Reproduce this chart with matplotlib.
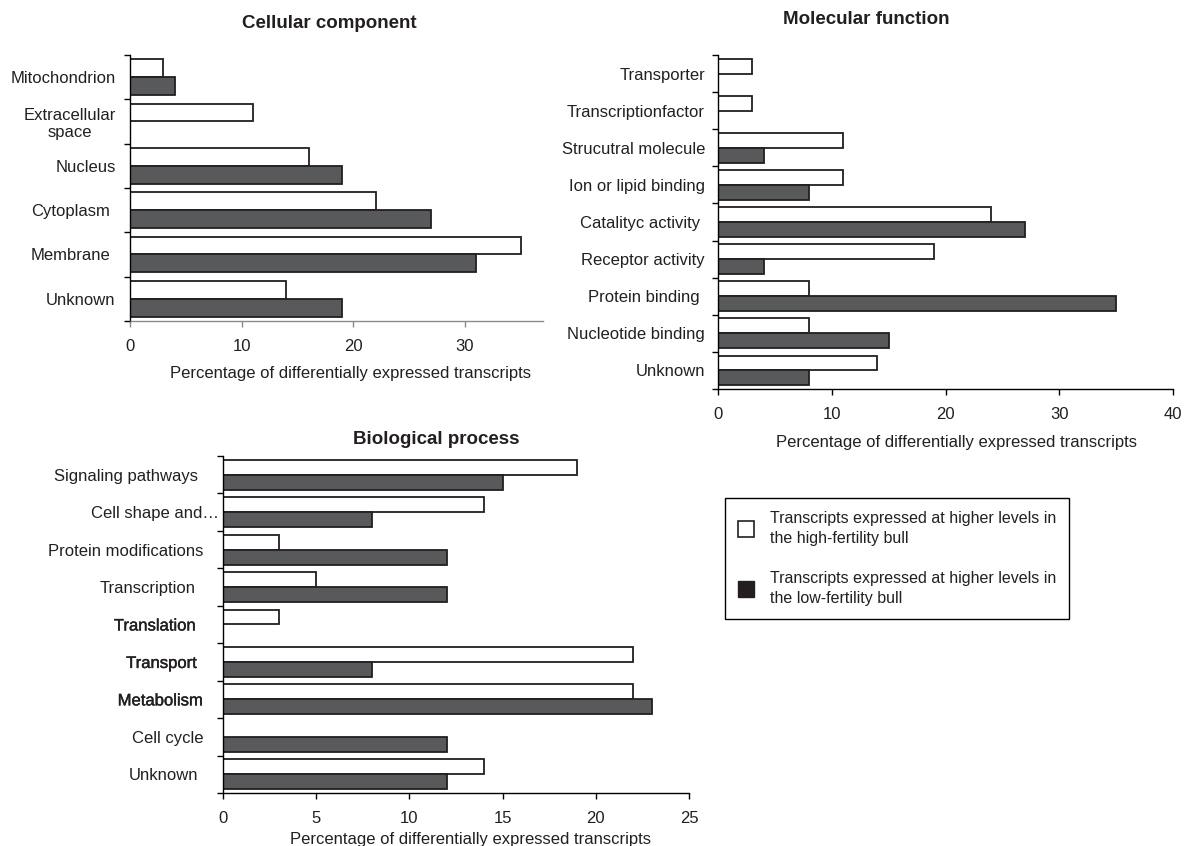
import numpy as np
import matplotlib
matplotlib.use('Agg')
import matplotlib.pyplot as plt
from matplotlib.patches import Patch
import matplotlib.patheffects as pe

plt.rcParams['font.family'] = ['Liberation Sans', 'DejaVu Sans']

# data (percent of differentially expressed transcripts)
cc_labels = ['Mitochondrion', 'Extracellular\nspace', 'Nucleus', 'Cytoplasm', 'Membrane', 'Unknown']
cc_high = [3, 11, 16, 22, 35, 14]
cc_low = [4, 0, 19, 27, 31, 19]

mf_labels = ['Transporter', 'Transcriptionfactor', 'Strucutral molecule', 'Ion or lipid binding',
             'Catalityc activity', 'Receptor activity', 'Protein binding', 'Nucleotide binding', 'Unknown']
mf_high = [3, 3, 11, 11, 24, 19, 8, 8, 14]
mf_low = [0, 0, 4, 8, 27, 4, 35, 15, 8]

bp_labels = ['Signaling pathways', 'Cell shape and\u2026', 'Protein modifications', 'Transcription',
             'Translation', 'Transport', 'Metabolism', 'Cell cycle', 'Unknown']
bp_high = [19, 14, 3, 5, 3, 22, 22, 0, 14]
bp_low = [15, 8, 12, 12, 0, 8, 23, 12, 12]

legend_labels = ['Transcripts expressed at higher levels in\nthe high-fertility bull',
                 'Transcripts expressed at higher levels in\nthe low-fertility bull']

W, H = 1184, 846
DARK = '#58595b'
EDGE = '#231f20'
TXT = '#231f20'


def box(l, t, r, b):
    return [l / W, 1 - b / H, (r - l) / W, (b - t) / H]


def panel(ax, labels, high, low, xmax, xticks, pads, xcolor, bold=()):
    n = len(labels)
    y = np.arange(n)
    ax.barh(y - 0.2, high, height=0.4, color='white', edgecolor=EDGE, linewidth=1.3)
    ax.barh(y + 0.2, low, height=0.4, color=DARK, edgecolor=EDGE, linewidth=1.3)
    ax.set_ylim(n - 0.5, -0.5)
    ax.set_xlim(0, xmax)
    ax.set_xticks(xticks)
    ax.set_yticks(y)
    ax.set_yticklabels(labels, fontsize=12, color=TXT)
    ax.set_yticks(np.arange(n + 1) - 0.5, minor=True)
    ax.tick_params(axis='y', which='major', length=0)
    ax.tick_params(axis='y', which='minor', length=4, width=1, color='black')
    ax.tick_params(axis='x', length=4, width=1, color=xcolor, labelsize=12,
                   labelcolor=TXT, pad=9)
    for t, p in zip(ax.yaxis.get_major_ticks(), pads):
        t.set_pad(p * 0.72)
    for i, lbl in enumerate(ax.get_yticklabels()):
        lbl.set_multialignment('center')
        if i in bold:
            lbl.set_path_effects([pe.withStroke(linewidth=0.3, foreground=TXT)])
    for s in ['top', 'right']:
        ax.spines[s].set_visible(False)
    ax.spines['left'].set_color('black')
    ax.spines['left'].set_linewidth(1)
    ax.spines['bottom'].set_color(xcolor)
    ax.spines['bottom'].set_linewidth(1)
    ax.set_axisbelow(False)


fig = plt.figure(figsize=(W / 100, H / 100), dpi=100)

ax1 = fig.add_axes(box(130, 55, 543, 321))
panel(ax1, cc_labels, cc_high, cc_low, 37, [0, 10, 20, 30],
      [14, 14, 14, 20, 20, 15], '#8a8a8a')

ax2 = fig.add_axes(box(718, 55, 1173, 389))
panel(ax2, mf_labels, mf_high, mf_low, 40, [0, 10, 20, 30, 40],
      [13, 13, 13, 13, 18, 13, 18, 13, 13], 'black')

ax3 = fig.add_axes(box(223, 456, 689, 793))
panel(ax3, bp_labels, bp_high, bp_low, 25, [0, 5, 10, 15, 20, 25],
      [25, 4, 20, 27, 27, 26, 20, 20, 25], 'black', bold=(4, 5, 6))

# titles and axis labels
fig.text(329 / W, 1 - 23 / H, 'Cellular component', fontsize=13.5, fontweight='bold',
         ha='center', va='center', color=TXT)
fig.text(866 / W, 1 - 20 / H, 'Molecular function', fontsize=13.5, fontweight='bold',
         ha='center', va='center', color=TXT)
fig.text(436 / W, 1 - 439 / H, 'Biological process', fontsize=13.5, fontweight='bold',
         ha='center', va='center', color=TXT)

xlab = 'Percentage of differentially expressed transcripts'
fig.text(350 / W, 1 - 373 / H, xlab, fontsize=12, ha='center', va='center', color=TXT)
fig.text(956 / W, 1 - 442 / H, xlab, fontsize=12, ha='center', va='center', color=TXT)
fig.text(470 / W, 1 - 839 / H, xlab, fontsize=12, ha='center', va='center', color=TXT)

handles = [Patch(facecolor='white', edgecolor=EDGE, linewidth=1.2),
           Patch(facecolor='#231f20', edgecolor='#231f20')]
leg = fig.legend(handles, legend_labels, loc='upper left',
                 bbox_to_anchor=(725 / W, 1 - 498 / H), fontsize=11.5,
                 frameon=True, fancybox=False, edgecolor='black', framealpha=1,
                 borderpad=0.8, handlelength=1.0, handleheight=1.2,
                 handletextpad=1.0, labelspacing=1.55, borderaxespad=0)
leg.get_frame().set_linewidth(1)
for t in leg.get_texts():
    t.set_color(TXT)
    t.set_linespacing(1.45)

fig.savefig('out.png', dpi=100)
